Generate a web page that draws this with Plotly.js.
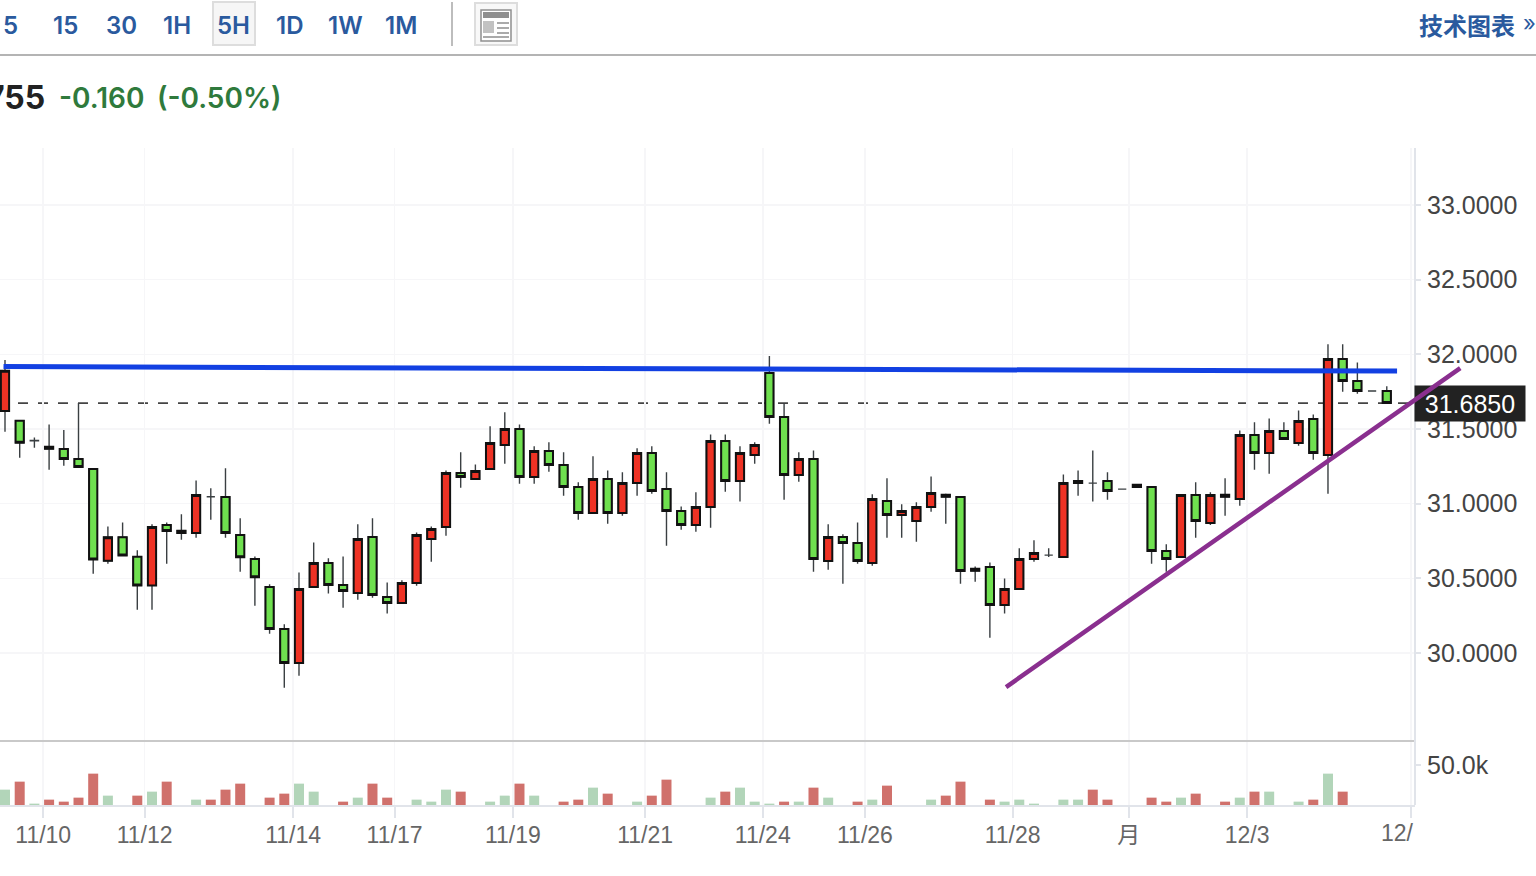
<!DOCTYPE html>
<html><head><meta charset="utf-8">
<script src="https://cdn.plot.ly/plotly-3.0.1.min.js"></script>
<style>html,body{margin:0;padding:0;background:#fff;overflow:hidden}#c{width:1536px;height:876px}</style>
</head><body><div id="c"></div>
<script>
const openP=[31.621,31.556,31.424,31.382,31.366,31.299,31.232,30.618,30.775,30.645,30.453,30.857,30.804,30.804,31.047,31.045,30.790,30.630,30.442,30.161,29.933,30.442,30.603,30.455,30.402,30.777,30.375,30.335,30.469,30.764,30.844,31.205,31.165,31.232,31.393,31.500,31.179,31.353,31.259,31.112,30.938,31.165,30.938,31.138,31.339,31.098,30.951,30.857,30.978,31.420,31.152,31.326,31.875,31.580,31.192,31.299,30.616,30.777,30.737,30.603,31.018,30.924,30.884,30.978,31.060,31.045,30.565,30.576,30.322,30.429,30.630,30.656,30.643,31.138,31.138,31.152,31.098,31.112,31.112,30.683,30.643,31.058,30.871,31.060,31.031,31.460,31.339,31.487,31.406,31.567,31.326,31.969,31.821,31.755,31.755];
const highP=[31.962,31.556,31.444,31.531,31.493,31.674,31.232,30.848,30.875,30.688,30.862,30.875,30.929,31.156,31.103,31.237,30.902,30.647,30.460,30.192,30.540,30.741,30.634,30.647,30.862,30.902,30.473,30.487,30.808,30.848,31.223,31.344,31.263,31.518,31.612,31.531,31.384,31.411,31.344,31.143,31.317,31.223,31.210,31.371,31.384,31.210,30.982,31.076,31.464,31.464,31.384,31.411,31.989,31.674,31.344,31.357,30.862,30.795,30.875,31.063,31.170,30.996,31.009,31.183,31.067,31.045,30.580,30.607,30.500,30.701,30.755,30.701,31.196,31.223,31.357,31.210,31.098,31.127,31.112,30.728,31.058,31.143,31.076,31.170,31.491,31.545,31.571,31.545,31.625,31.598,32.067,32.067,31.946,31.755,31.786];
const lowP=[31.482,31.308,31.375,31.228,31.255,31.246,30.531,30.598,30.654,30.290,30.290,30.598,30.759,30.772,30.893,30.772,30.545,30.317,30.130,29.768,29.848,30.442,30.398,30.304,30.357,30.371,30.264,30.335,30.451,30.612,30.786,31.107,31.165,31.232,31.268,31.134,31.134,31.214,31.054,30.893,30.938,30.866,30.920,31.054,31.067,30.719,30.826,30.813,30.839,31.080,31.014,31.268,31.536,31.027,31.147,30.545,30.558,30.464,30.598,30.585,30.772,30.772,30.746,30.947,30.866,30.464,30.478,30.103,30.264,30.429,30.612,30.643,30.643,31.054,31.014,31.027,31.098,31.112,30.598,30.545,30.643,30.772,30.857,30.920,30.987,31.228,31.201,31.433,31.388,31.295,31.067,31.750,31.737,31.755,31.674];
const closeP=[31.891,31.409,31.422,31.368,31.299,31.246,30.627,30.775,30.654,30.453,30.844,30.817,30.819,31.058,31.047,30.804,30.641,30.507,30.161,29.933,30.429,30.603,30.455,30.415,30.764,30.389,30.335,30.469,30.790,30.830,31.205,31.179,31.219,31.406,31.500,31.179,31.353,31.259,31.112,30.938,31.165,30.938,31.138,31.339,31.085,30.951,30.857,30.978,31.420,31.152,31.339,31.393,31.580,31.192,31.299,30.630,30.777,30.737,30.616,31.031,30.924,30.951,30.978,31.071,31.047,30.549,30.551,30.322,30.429,30.630,30.670,30.656,31.138,31.152,31.138,31.085,31.098,31.127,30.683,30.630,31.058,30.884,31.058,31.047,31.460,31.339,31.487,31.433,31.554,31.339,31.969,31.821,31.755,31.755,31.674];
const hairlineCandles=[2,14,71,74,76,93];
const volume=[19200,29200,1700,6700,4200,9200,39200,11700,0,11700,16700,29200,0,6700,6700,19200,26700,0,9200,14200,26700,16700,0,4200,9200,26700,9200,0,6700,4200,19200,16700,0,4200,11700,26700,11700,0,4200,6700,21700,14200,0,4200,11700,31700,0,0,9200,16700,21700,4200,1700,4200,4200,21700,9200,0,4200,6700,24200,0,0,6700,11700,29200,0,6700,4200,6700,1700,0,6700,6700,19200,6700,0,0,9200,4200,9200,14200,0,4200,9200,16700,16700,0,4200,6700,39200,16700,0,0,0];
const volumeUp=[0,1,0,1,1,1,1,0,0,1,0,1,0,0,1,1,1,0,1,1,0,0,0,1,0,1,1,0,0,0,0,1,0,0,0,1,0,0,1,1,0,1,0,0,1,1,0,0,0,1,0,0,0,1,0,1,0,0,1,0,1,0,0,0,1,1,0,1,0,0,0,0,0,0,1,1,0,0,1,1,0,1,0,1,0,1,0,0,0,1,0,1,0,0,0];
const tickPos=[2.6,9.5,19.6,26.5,34.55,43.55,51.55,58.5,68.55,76.45,84.5,95.65];
const tickText=['11/10','11/12','11/14','11/17','11/19','11/21','11/24','11/26','11/28','月','12/3',''];
const priceTicks=[30,30.5,31,31.5,32,32.5,33];
const priceTickText=['30.0000','30.5000','31.0000','31.5000','32.0000','32.5000','33.0000'];
const resistanceX=[-0.1,94.7], resistanceY=[31.918,31.888];
const supportX=[68.1,99.1], supportY=[29.772,31.915];
const lastPriceLevel=31.674;
const periods=['5','15','30','1H','5H','1D','1W','1M'];
const periodPx=[10,65,121,177,233,289,345,401];

const idx=openP.map((_,i)=>i);
const isThin=i=>hairlineCandles.includes(i);
const X=p=>p/1536, Y=p=>1-p/876;
const RED='#ee3224', GREEN='#6fe04f';
const FONT='"Liberation Sans", Arial, sans-serif';
const UI='Inter, "Noto Sans", sans-serif';
const BLUE='#2a5a9e';

const traces=[
 {type:'candlestick',x:idx,open:openP,high:highP,low:lowP,close:closeP,xaxis:'x',yaxis:'y',hoverinfo:'skip',showlegend:false,
  increasing:{line:{color:'#3a3f42',width:1.4},fillcolor:'rgba(0,0,0,0)'},decreasing:{line:{color:'#3a3f42',width:1.4},fillcolor:'rgba(0,0,0,0)'}},
 {type:'candlestick',x:idx,
  open:openP.map((v,i)=>isThin(i)?null:v),
  high:idx.map(i=>isThin(i)?null:Math.max(openP[i],closeP[i])),
  low:idx.map(i=>isThin(i)?null:Math.min(openP[i],closeP[i])),
  close:closeP.map((v,i)=>isThin(i)?null:v),
  xaxis:'x',yaxis:'y',hoverinfo:'skip',showlegend:false,
  increasing:{line:{color:'#111',width:2},fillcolor:RED},decreasing:{line:{color:'#111',width:2},fillcolor:GREEN}},
 {type:'scatter',mode:'lines',x:resistanceX,y:resistanceY,xaxis:'x',yaxis:'y',hoverinfo:'skip',showlegend:false,
  line:{color:'#1240e2',width:5}},
 {type:'bar',x:idx,y:volume,xaxis:'x2',yaxis:'y2',hoverinfo:'skip',showlegend:false,width:0.68,
  marker:{color:volumeUp.map(u=>u?'#d0716c':'#b2d5b9'),line:{width:0}}}
];

const txt=(t,px,py,size,color,anchor,extra)=>Object.assign({text:t,xref:'paper',yref:'paper',x:X(px),y:Y(py),xanchor:anchor||'center',yanchor:'middle',showarrow:false,font:{family:UI,size:size,color:color}},extra||{});
const annotations=periods.map((p,i)=>txt(p,periodPx[i],25,24,BLUE,'center',{font:{family:UI,size:24,color:BLUE,weight:600}}));
annotations.push(txt('技术图表',1417,24,24,BLUE,'left',{font:{family:'"Noto Sans CJK SC"',size:24,color:BLUE,weight:700}}));
annotations.push(txt('»',1538,23,22,BLUE,'right',{font:{family:UI,size:22,color:BLUE}}));
annotations.push(txt('755',47,98,32,'#222','right',{font:{family:UI,size:32,color:'#222',weight:700}}));
annotations.push(txt('-0.160',57,98,28,'#2f7a3c','left',{font:{family:UI,size:28,color:'#2f7a3c',weight:600}}));
annotations.push(txt('(-0.50%)',155,98,28,'#2f7a3c','left',{font:{family:UI,size:28,color:'#2f7a3c',weight:600}}));
annotations.push(txt('12/',1416,833,23,'#666','right',{font:{family:FONT,size:23,color:'#666'}}));
annotations.push(txt('31.6850',1470,404,25,'#fff','center',{font:{family:FONT,size:25,color:'#fff'},bgcolor:'#222222',borderpad:3,width:104,height:29}));
annotations.push({text:' ',xref:'x',yref:'y',axref:'x',ayref:'y',x:supportX[0],y:supportY[0],ax:supportX[1],ay:supportY[1],showarrow:true,arrowhead:0,arrowwidth:4.5,arrowcolor:'#8a2f8f',standoff:0,startstandoff:0,font:{size:1}});

const line=(x0,y0,x1,y1,color,w)=>({type:'line',xref:'paper',yref:'paper',x0:X(x0),y0:Y(y0),x1:X(x1),y1:Y(y1),line:{color:color,width:w},layer:'above'});
const rect=(x0,y0,x1,y1,fill,color,w)=>({type:'rect',xref:'paper',yref:'paper',x0:X(x0),y0:Y(y0),x1:X(x1),y1:Y(y1),fillcolor:fill,line:{color:color,width:w},layer:'above'});
const shapes=[
 line(0,55,1536,55,'#b4b4b4',2),
 line(0,741,1415,741,'#c9c9c9',2),
 line(1415,148,1415,805,'#e1e4ea',2),
 line(452,2,452,46,'#bdbdbd',2),
 rect(213,2,255,45,'#f6f6f6','#dddddd',2),
 rect(475,3,517,45,'#f8f8f8','#dddddd',2),
 rect(481,10,511,41,'#ffffff','#8f8f8f',1.5),
 rect(483,12,509,18,'#8f8f8f','#8f8f8f',0),
 rect(483,21,494,33,'#c2c2c2','#c2c2c2',0),
 line(497,23,509,23,'#aaaaaa',2),
 line(497,28,509,28,'#aaaaaa',2),
 line(497,33,509,33,'#aaaaaa',2),
 line(483,37,509,37,'#aaaaaa',2),
 {type:'line',xref:'paper',yref:'y',x0:X(18),x1:X(1415),y0:lastPriceLevel,y1:lastPriceLevel,line:{color:'#444',width:1.8,dash:'10px,10px'},layer:'between'}
];

const baseX={domain:[0,1415/1536],range:[-0.34,95.92],showline:false,zeroline:false,fixedrange:true,tickmode:'array',tickvals:tickPos,
  showgrid:true,gridcolor:'#f6f6f8',gridwidth:1.5,rangeslider:{visible:false}};
const layout={
 width:1536,height:876,margin:{l:0,r:0,t:0,b:0,pad:0},paper_bgcolor:'#fff',plot_bgcolor:'#fff',showlegend:false,dragmode:false,
 boxmode:'overlay',boxgap:0.44,boxgroupgap:0,
 font:{family:FONT},
 xaxis:Object.assign({},baseX,{anchor:'y',showticklabels:false,ticks:''}),
 xaxis2:Object.assign({},baseX,{anchor:'y2',ticktext:tickText,showticklabels:true,ticks:'outside',ticklen:11,tickwidth:2,tickcolor:'#e1e4ea',tickangle:0,
   showline:true,linecolor:'#e1e4ea',linewidth:2,ticklabelstandoff:-3,tickfont:{family:FONT+',"Noto Sans CJK SC"',size:23,color:'#666'}}),
 yaxis:{domain:[Y(741),Y(148)],range:[29.411,33.382],anchor:'x',side:'right',tickmode:'array',tickvals:priceTicks,ticktext:priceTickText,
   showgrid:true,gridcolor:'#f6f6f8',gridwidth:1.5,zeroline:false,showline:false,ticks:'outside',ticklen:5,tickwidth:2,tickcolor:'#e1e4ea',fixedrange:true,
   ticklabelstandoff:1,tickfont:{family:FONT,size:25,color:'#444'}},
 yaxis2:{domain:[Y(805),Y(741)],range:[0,80000],anchor:'x2',side:'right',tickmode:'array',tickvals:[50000],ticktext:['50.0k'],
   showgrid:false,zeroline:false,showline:false,ticks:'outside',ticklen:5,tickwidth:2,tickcolor:'#e1e4ea',fixedrange:true,
   ticklabelstandoff:1,tickfont:{family:FONT,size:25,color:'#444'}},
 shapes:shapes,annotations:annotations
};
Plotly.newPlot('c',traces,layout,{displayModeBar:false,staticPlot:true,responsive:false});
</script></body></html>
